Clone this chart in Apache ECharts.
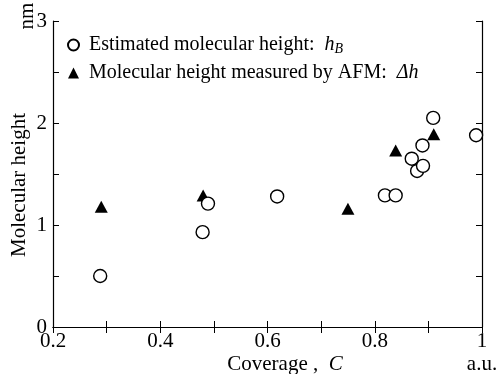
<!DOCTYPE html>
<html>
<head>
<meta charset="utf-8">
<script src="https://cdn.jsdelivr.net/npm/echarts@6/dist/echarts.min.js"></script>
<style>html,body{margin:0;padding:0;background:#fff;}#c{width:502px;height:374px;}</style>
</head>
<body>
<div id="c"></div>
<script>
// Estimated molecular height h_B (circles)
const estC = [0.288, 0.479, 0.489, 0.618, 0.819, 0.839, 0.869, 0.879, 0.890, 0.889, 0.909, 0.989];
const estH = [0.50, 0.93, 1.21, 1.28, 1.29, 1.29, 1.65, 1.53, 1.58, 1.78, 2.05, 1.88];
// Molecular height measured by AFM Δh (triangles)
const afmC = [0.290, 0.480, 0.750, 0.839, 0.910];
const afmH = [1.18, 1.29, 1.16, 1.73, 1.89];
const xTickLabels = ['0.2', '0.4', '0.6', '0.8', '1'];
const yTickLabels = ['0', '1', '2', '3'];

const FONT = '"Liberation Serif", "DejaVu Serif", serif';
const FS = 21;
const chart = echarts.init(document.getElementById('c'), null, {renderer: 'canvas'});

function xLabel(v) {
  const lab = (Math.abs(v - 1) < 1e-6) ? '1' : v.toFixed(1);
  return xTickLabels.indexOf(lab) >= 0 ? lab : '';
}
function yLabel(v) {
  const lab = String(v);
  return yTickLabels.indexOf(lab) >= 0 ? lab : '';
}
const lineStyle = {color: '#000', width: 1.2};
const tickStyle = {inside: true, length: 6, lineStyle: {color: '#000', width: 1}};

chart.setOption({
  animation: false,
  backgroundColor: '#fff',
  textStyle: {fontFamily: FONT, color: '#000'},
  grid: {left: 53, right: 20, top: 21, bottom: 47, containLabel: false},
  legend: {
    left: 67, top: 34, orient: 'vertical', itemGap: 6, itemWidth: 11, itemHeight: 11,
    padding: 0,
    textStyle: {
      fontFamily: FONT, fontSize: 20, color: '#000', lineHeight: 22,
      rich: {
        s: {width: 5, fontSize: 20, lineHeight: 22},
        i: {fontFamily: FONT, fontSize: 20, lineHeight: 22, fontStyle: 'italic', color: '#000'},
        sub: {fontFamily: FONT, fontSize: 14, lineHeight: 14, fontStyle: 'italic', color: '#000', padding: [8, 0, 0, 0]}
      }
    },
    formatter: function (name) {
      if (name.indexOf('Estimated') === 0) return '{s| }Estimated molecular height:  {i|h}{sub|B}';
      return '{s| }Molecular height measured by AFM:  {i|Δh}';
    },
    data: ['Estimated molecular height', 'Molecular height measured by AFM']
  },
  xAxis: [{
    type: 'value', min: 0.2, max: 1, interval: 0.1, position: 'bottom',
    axisLine: {show: true, lineStyle: lineStyle}, axisTick: tickStyle,
    axisLabel: {formatter: xLabel, fontFamily: FONT, fontSize: FS, color: '#000', margin: 4, showMaxLabel: true, showMinLabel: true},
    splitLine: {show: false}
  }, {
    type: 'value', min: 0.2, max: 1, interval: 0.1, position: 'top',
    axisLine: {show: true, lineStyle: lineStyle}, axisTick: tickStyle,
    axisLabel: {show: false}, splitLine: {show: false}
  }],
  yAxis: [{
    type: 'value', min: 0, max: 3, interval: 0.5, position: 'left',
    axisLine: {show: true, lineStyle: lineStyle}, axisTick: tickStyle,
    axisLabel: {formatter: yLabel, fontFamily: FONT, fontSize: FS, color: '#000', margin: 6, showMaxLabel: true, showMinLabel: true},
    splitLine: {show: false}
  }, {
    type: 'value', min: 0, max: 3, interval: 0.5, position: 'right',
    axisLine: {show: true, lineStyle: lineStyle}, axisTick: tickStyle,
    axisLabel: {show: false}, splitLine: {show: false}
  }],
  graphic: [
    {type: 'text', x: 19, y: 185, rotation: Math.PI / 2,
     style: {text: 'Molecular height', fontFamily: FONT, fontSize: FS, fill: '#000', align: 'center', verticalAlign: 'middle'}},
    {type: 'text', x: 27, y: 16, rotation: Math.PI / 2,
     style: {text: 'nm', fontFamily: FONT, fontSize: FS, fill: '#000', align: 'center', verticalAlign: 'middle'}},
    {type: 'text', x: 285, y: 364,
     style: {text: 'Coverage ,  {i|C}', fontFamily: FONT, fontSize: FS, fill: '#000', align: 'center', verticalAlign: 'middle',
       rich: {i: {fontFamily: FONT, fontSize: FS, fontStyle: 'italic', fill: '#000'}}}},
    {type: 'text', x: 482, y: 364,
     style: {text: 'a.u.', fontFamily: FONT, fontSize: FS, fill: '#000', align: 'center', verticalAlign: 'middle'}}
  ],
  series: [{
    name: 'Estimated molecular height', type: 'scatter', xAxisIndex: 0, yAxisIndex: 0,
    symbol: 'circle', symbolSize: 13,
    itemStyle: {color: '#fff', borderColor: '#000', borderWidth: 1.4, opacity: 1},
    data: estC.map((c, i) => [c, estH[i]]), z: 3
  }, {
    name: 'Molecular height measured by AFM', type: 'scatter', xAxisIndex: 0, yAxisIndex: 0,
    symbol: 'triangle', symbolSize: [13, 12],
    itemStyle: {color: '#000', opacity: 1},
    data: afmC.map((c, i) => [c, afmH[i]]), z: 2
  }]
});
</script>
</body>
</html>
